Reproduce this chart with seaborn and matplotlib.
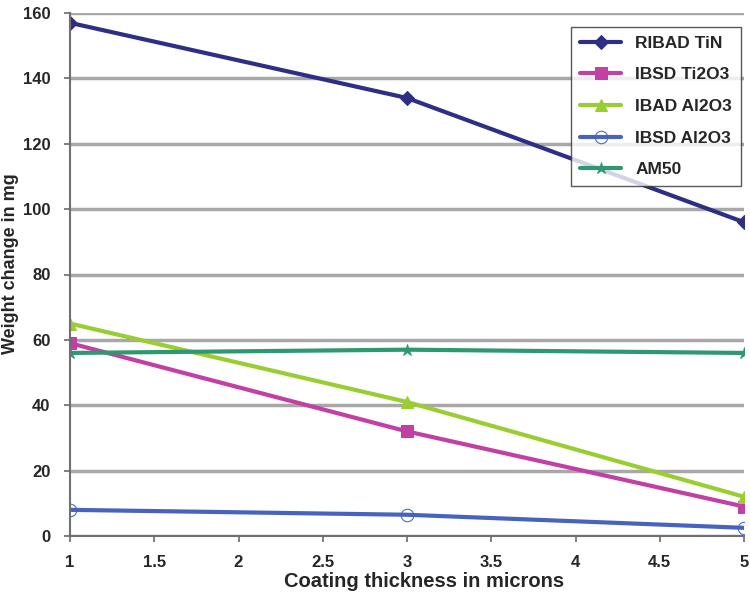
import pandas as pd
import matplotlib.pyplot as plt
import seaborn as sns

# Данные
thickness = [1, 3, 5]
ribad_tin = [157, 134, 96]
ibsd_ti2o3 = [59, 32, 9]
ibad_al2o3 = [65, 41, 12]
ibsd_al2o3 = [8, 6.5, 2.5]
am50 = [56, 57, 56]

series = ['RIBAD TiN', 'IBSD Ti2O3', 'IBAD Al2O3', 'IBSD Al2O3', 'AM50']
values = [ribad_tin, ibsd_ti2o3, ibad_al2o3, ibsd_al2o3, am50]

rows = []
for name, vals in zip(series, values):
    for x, y in zip(thickness, vals):
        rows.append({'thickness': x, 'weight': y, 'series': name})
df = pd.DataFrame(rows)

palette = {'RIBAD TiN': '#2E2E86', 'IBSD Ti2O3': '#C23FA4', 'IBAD Al2O3': '#9ACD32',
           'IBSD Al2O3': '#4763BE', 'AM50': '#2E9870'}
markers = {'RIBAD TiN': 'D', 'IBSD Ti2O3': 's', 'IBAD Al2O3': '^',
           'IBSD Al2O3': 'o', 'AM50': '*'}

sns.set_theme(style='white')
plt.rcParams['font.family'] = ['Liberation Sans', 'DejaVu Sans']
plt.rcParams['font.weight'] = 'bold'

fig = plt.figure(figsize=(7.5, 6.04), dpi=100)
ax = fig.add_axes([70 / 750, 68 / 604, 674 / 750, 523 / 604])

for name in series:
    sub = df[df['series'] == name]
    face = 'none' if name == 'IBSD Al2O3' else palette[name]
    sns.lineplot(data=sub, x='thickness', y='weight', ax=ax, color=palette[name],
                 linewidth=3, marker=markers[name], markersize=9 if name != 'RIBAD TiN' else 7,
                 markerfacecolor=face, markeredgecolor=palette[name], label=name)

ax.set_xlim(1, 5)
ax.set_ylim(0, 160)
ax.set_xticks([1, 1.5, 2, 2.5, 3, 3.5, 4, 4.5, 5])
ax.set_xticklabels(['1', '1.5', '2', '2.5', '3', '3.5', '4', '4.5', '5'])
ax.set_yticks(range(0, 161, 20))
ax.yaxis.grid(True, color='#A8A8A8', linewidth=2.5)
ax.set_axisbelow(True)
for s in ['top', 'right']:
    ax.spines[s].set_visible(False)
for s in ['left', 'bottom']:
    ax.spines[s].set_color('#707070')
    ax.spines[s].set_linewidth(1.5)
ax.tick_params(axis='both', labelsize=12, length=4, color='#707070', direction='out',
               bottom=True, left=True, pad=10)
for lab in ax.get_xticklabels() + ax.get_yticklabels():
    lab.set_fontweight('bold')
ax.set_xlabel('Coating thickness in microns', fontsize=14.5, fontweight='bold', labelpad=1)
ax.xaxis.label.set_x(0.525)
ax.set_ylabel('Weight change in mg', fontsize=13, fontweight='bold')
ax.yaxis.set_label_coords(-0.075, 0.52)

leg = ax.legend(loc='upper right', bbox_to_anchor=(1.008, 0.99), fontsize=12.5, frameon=True,
                fancybox=False, edgecolor='#303030', borderpad=0.5, labelspacing=0.95,
                handlelength=2.4)
leg.get_frame().set_linewidth(1)
for t in leg.get_texts():
    t.set_fontweight('bold')

fig.savefig('out.png', dpi=100)
